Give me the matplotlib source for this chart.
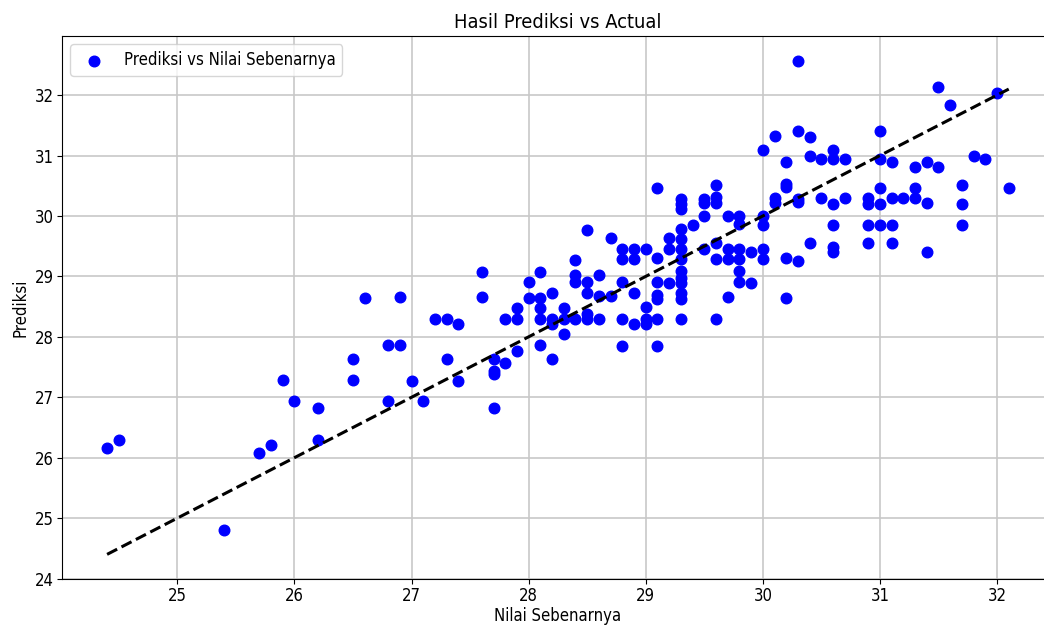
import matplotlib
matplotlib.use("Agg")
import matplotlib.pyplot as plt
import numpy as np

# actual values (x) and model predictions (y)
aktual = [
    24.4, 24.5, 25.4, 25.7, 25.8, 25.9, 26.0, 26.2, 26.2, 26.5, 26.5, 26.6,
    26.8, 26.8, 26.9, 26.9, 27.0, 27.1, 27.2, 27.3, 27.3, 27.4, 27.4,
    27.6, 27.6, 27.7, 27.7, 27.7, 27.7, 27.8, 27.8, 27.9, 27.9, 27.9,
    28.0, 28.0, 28.1, 28.1, 28.1, 28.1, 28.1, 28.2, 28.2, 28.2, 28.2,
    28.3, 28.3, 28.3, 28.4, 28.4, 28.4, 28.4, 28.5, 28.5, 28.5, 28.5, 28.5,
    28.6, 28.6, 28.6, 28.7, 28.7, 28.8, 28.8, 28.8, 28.8, 28.8,
    28.9, 28.9, 28.9, 28.9, 29.0, 29.0, 29.0, 29.0,
    29.1, 29.1, 29.1, 29.1, 29.1, 29.1, 29.1, 29.2, 29.2, 29.2,
    29.3, 29.3, 29.3, 29.3, 29.3, 29.3, 29.3, 29.3, 29.3, 29.3, 29.3, 29.3, 29.3,
    29.4, 29.5, 29.5, 29.5, 29.5, 29.6, 29.6, 29.6, 29.6, 29.6, 29.6,
    29.7, 29.7, 29.7, 29.7, 29.8, 29.8, 29.8, 29.8, 29.8, 29.8, 29.9, 29.9,
    30.0, 30.0, 30.0, 30.0, 30.0, 30.1, 30.1, 30.1,
    30.2, 30.2, 30.2, 30.2, 30.2, 30.3, 30.3, 30.3, 30.3, 30.3,
    30.4, 30.4, 30.4, 30.5, 30.5, 30.6, 30.6, 30.6, 30.6, 30.6, 30.6,
    30.7, 30.7, 30.9, 30.9, 30.9, 30.9, 31.0, 31.0, 31.0, 31.0, 31.0,
    31.1, 31.1, 31.1, 31.1, 31.2, 31.3, 31.3, 31.3, 31.4, 31.4, 31.4,
    31.5, 31.5, 31.6, 31.7, 31.7, 31.7, 31.8, 31.9, 32.0, 32.1,
]
prediksi = [
    26.16, 26.30, 24.80, 26.08, 26.21, 27.28, 26.93, 26.83, 26.30, 27.63, 27.28, 28.64,
    27.87, 26.93, 28.66, 27.87, 27.27, 26.93, 28.29, 28.29, 27.63, 28.22, 27.27,
    29.08, 28.66, 27.64, 27.44, 27.38, 26.83, 28.29, 27.57, 28.48, 28.29, 27.77,
    28.90, 28.64, 29.08, 28.64, 28.48, 28.29, 27.87, 28.72, 28.29, 28.22, 27.63,
    28.48, 28.29, 28.04, 29.27, 29.02, 28.90, 28.29, 29.77, 28.90, 28.72, 28.37, 28.29,
    29.02, 28.68, 28.29, 29.63, 28.68, 29.45, 29.28, 28.90, 28.29, 27.85,
    29.45, 29.28, 28.72, 28.22, 29.45, 28.50, 28.29, 28.22,
    30.46, 29.30, 28.90, 28.70, 28.63, 28.29, 27.85, 29.63, 29.45, 28.89,
    30.28, 30.20, 30.12, 29.78, 29.62, 29.45, 29.28, 29.09, 28.98, 28.89, 28.73, 28.63, 28.29,
    29.85, 30.28, 30.22, 30.00, 29.45, 30.52, 30.32, 30.22, 29.56, 29.28, 28.29,
    30.00, 29.45, 29.28, 28.66, 30.00, 29.86, 29.45, 29.28, 29.09, 28.90, 29.41, 28.89,
    31.10, 30.00, 29.85, 29.46, 29.28, 31.33, 30.30, 30.21,
    30.89, 30.53, 30.48, 29.30, 28.65, 32.57, 31.41, 30.28, 30.23, 29.26,
    31.31, 30.99, 29.55, 30.94, 30.29, 31.10, 30.94, 30.20, 29.85, 29.48, 29.41,
    30.94, 30.29, 30.29, 30.20, 29.85, 29.56, 31.41, 30.94, 30.47, 30.20, 29.85,
    30.89, 30.29, 29.85, 29.56, 30.29, 30.81, 30.47, 30.29, 30.89, 30.22, 29.41,
    32.13, 30.81, 31.83, 30.52, 30.20, 29.85, 31.00, 30.94, 32.03, 30.47,
]

aktual = np.array(aktual)
prediksi = np.array(prediksi)

plt.rcParams["font.family"] = ["DejaVu Sans"]
plt.rcParams["font.stretch"] = "condensed"

fig = plt.figure(figsize=(10.44, 6.26), dpi=100)
# the reference screenshot cuts off the right edge of the axes
ax = fig.add_axes([0.0594, 0.075, 0.950, 0.8675])

ax.scatter(aktual, prediksi, color="blue", s=58, label="Prediksi vs Nilai Sebenarnya", zorder=3)
lo, hi = aktual.min(), aktual.max()
ax.plot([lo, hi], [lo, hi], "k--", lw=2.2, zorder=4)

ax.set_title("Hasil Prediksi vs Actual", fontsize=14.4)
ax.set_xlabel("Nilai Sebenarnya", fontsize=12, labelpad=1.5)
ax.set_ylabel("Prediksi", fontsize=12)
ax.tick_params(labelsize=12, pad=2.5)
ax.grid(True, color="#c8c8c8", lw=1.2)
ax.set_axisbelow(True)
ax.legend(loc="upper left", fontsize=12)

fig.savefig("out.png", dpi=100)
